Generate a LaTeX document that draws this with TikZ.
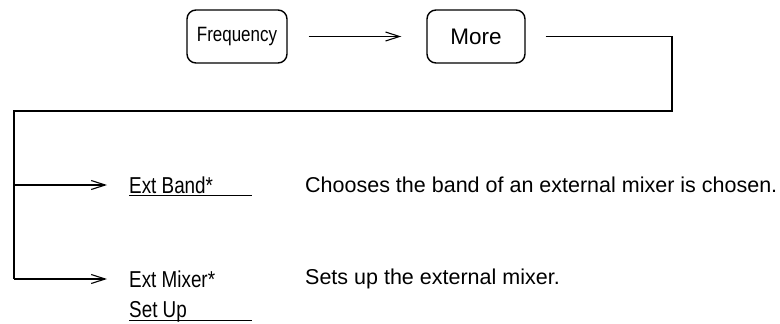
\documentclass[tikz,border=0pt]{standalone}
\usepackage{fontspec}
\setmainfont{Liberation Sans}
\newfontfamily\narrowfont{Liberation Sans}[FakeStretch=0.82]
\usetikzlibrary{arrows.meta}

\begin{document}
\begin{tikzpicture}[x=1pt, y=-1pt,
  key/.style={draw, line width=1.4pt, rounded corners=9pt, minimum height=53pt, inner sep=0pt},
  link/.style={line width=1.2pt},
  jump/.style={link, -{Straight Barb[length=14pt, width=9pt, line width=1.1pt]}},
  softkey/.style={anchor=west, inner sep=0pt, font=\narrowfont\fontsize{23}{27}\selectfont},
  note/.style={anchor=west, inner sep=0pt, font=\fontsize{21.5}{25}\selectfont}]
  \useasboundingbox (0,0) rectangle (780,324);

  % Keys on top
  \node[key, minimum width=100pt, font=\narrowfont\fontsize{20.7}{24}\selectfont] (freq) at (237,36.5) {Frequency};
  \node[key, minimum width=98pt, font=\fontsize{22.5}{26}\selectfont] (more) at (476,36.5) {More};
  \draw[jump, shorten <=21pt, shorten >=25pt] (freq.east) -- (more.west);

  % Softkeys
  \node[softkey] (band) at (129,185) {Ext Band*};
  \node[softkey] (mixer) at (129,279) {Ext Mixer*};
  \node[softkey] (setup) at (129,312) {Set Up};
  \draw[link] ([yshift=-2pt]band.base west) -- ++(123,0);
  \draw[link] ([yshift=-2.5pt]setup.base west) -- ++(123,0);

  % Bus from More down to the softkeys
  \coordinate (bus-r) at (672,111);
  \coordinate (bus-l) at (14,111);
  \coordinate (bus-end) at (bus-l |- mixer);
  \draw[link, shorten <=20pt] (more.east) -| (bus-r) -- (bus-l) -- (bus-end);
  \draw[jump, shorten >=22pt] (bus-l |- band) -- (band.west);
  \draw[jump, shorten >=22pt] (bus-end) -- (mixer.west);

  % What they do
  \node[note] (band-note) at (305,185) {Chooses the band of an external mixer is chosen.};
  \node[note] (mixer-note) at (305,279) {Sets up the external mixer.};
\end{tikzpicture}
\end{document}
